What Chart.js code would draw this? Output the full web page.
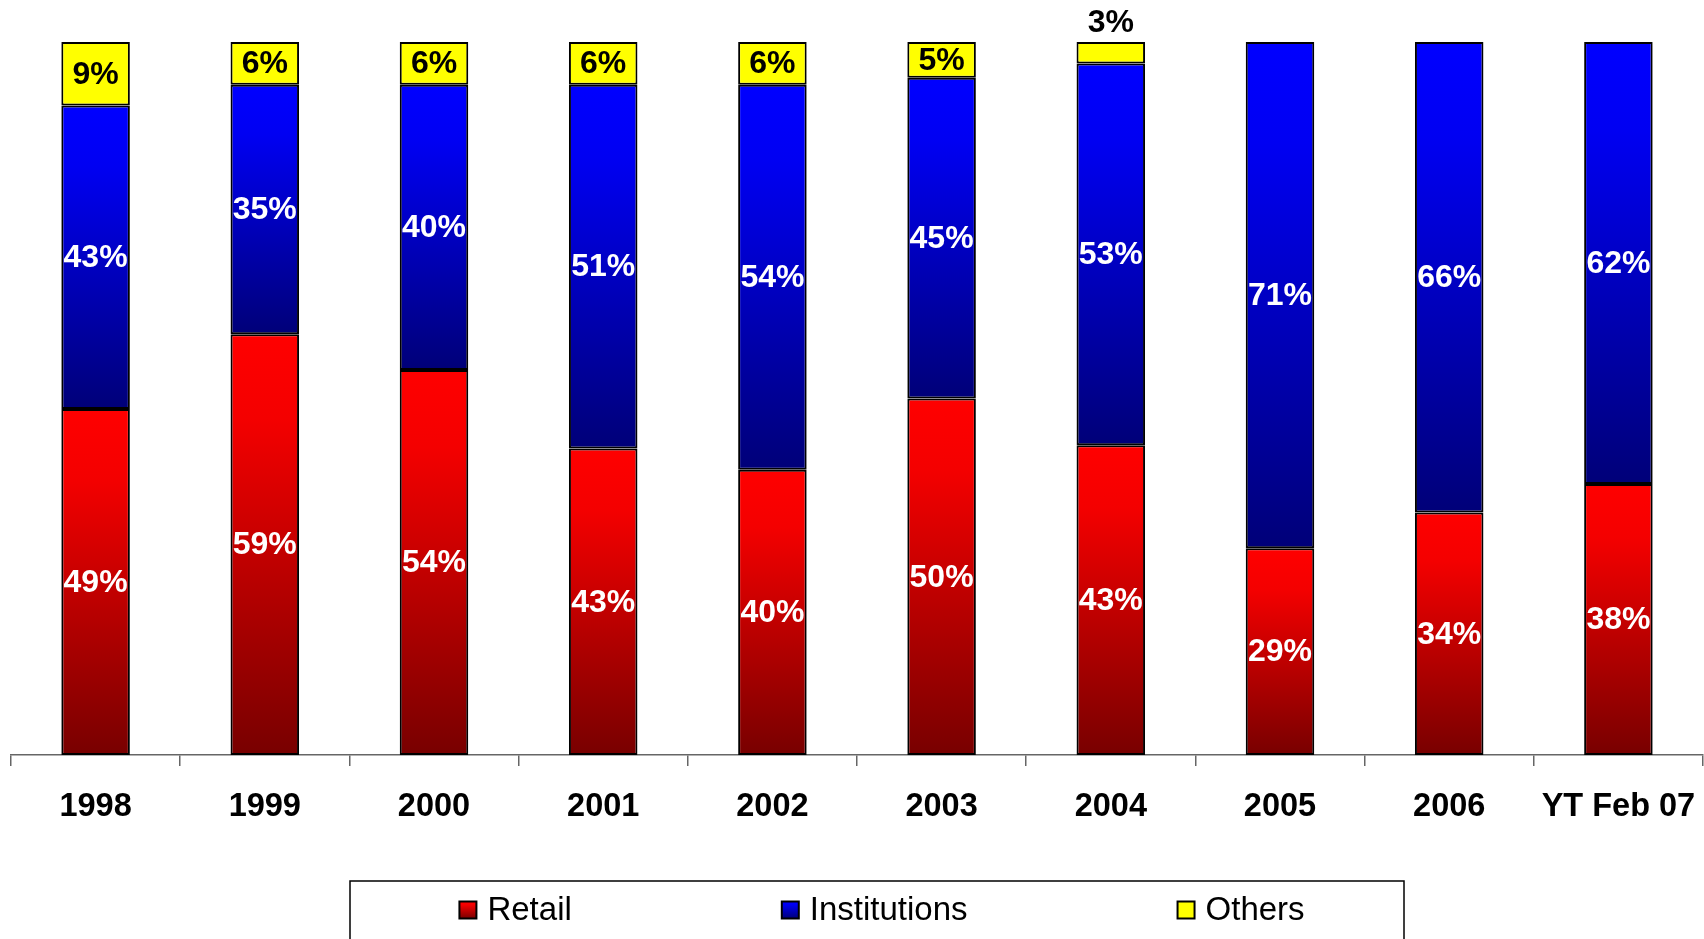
<!DOCTYPE html>
<html>
<head>
<meta charset="utf-8">
<title>Share of trading by investor type</title>
<script src="https://cdn.jsdelivr.net/npm/chart.js@4.4.1/dist/chart.umd.min.js"></script>
<style>
  html, body { margin: 0; padding: 0; background: #fff; }
  #wrap { width: 1704px; height: 939px; position: relative; }
</style>
</head>
<body>
<div id="wrap"><canvas id="shareChart"></canvas></div>
<script>
const years = ['1998', '1999', '2000', '2001', '2002', '2003', '2004', '2005', '2006', 'YT Feb 07'];
const retail = [49, 59, 54, 43, 40, 50, 43, 29, 34, 38];
const institutions = [43, 35, 40, 51, 54, 45, 53, 71, 66, 62];
const others = [9, 6, 6, 6, 6, 5, 3, 0, 0, 0];

const FONT = '"Liberation Sans", Arial, sans-serif';

// each bar is shown as a 100% column
const totals = years.map((_, i) => retail[i] + institutions[i] + others[i]);
const toShare = arr => arr.map((v, i) => v / totals[i] * 100);

function segGradient(ctx, top, bottom, light, mid, dark) {
  const g = ctx.createLinearGradient(0, top, 0, bottom);
  g.addColorStop(0, light);
  g.addColorStop(0.2, mid);
  g.addColorStop(1, dark);
  return g;
}

// gradient fill per segment, bright on top and dark at the bottom
function shadedFill(light, mid, dark) {
  return function (context) {
    const chart = context.chart;
    if (!chart.chartArea || context.type !== 'data') return light;
    const y = chart.scales.y;
    const di = context.datasetIndex, idx = context.dataIndex;
    let low = 0;
    for (let k = 0; k < di; k++) low += chart.data.datasets[k].data[idx];
    const high = low + chart.data.datasets[di].data[idx];
    const top = y.getPixelForValue(high), bottom = y.getPixelForValue(low);
    if (!isFinite(top) || !isFinite(bottom) || bottom - top < 1) return light;
    return segGradient(chart.ctx, top, bottom, light, mid, dark);
  };
}

const valueLabels = {
  id: 'valueLabels',
  afterDatasetsDraw(chart) {
    const ctx = chart.ctx;
    ctx.save();
    ctx.font = 'bold 32px ' + FONT;
    ctx.textAlign = 'center';
    ctx.textBaseline = 'middle';
    chart.data.datasets.forEach((ds, di) => {
      const meta = chart.getDatasetMeta(di);
      meta.data.forEach((bar, i) => {
        const v = ds.rawValues[i];
        if (!v) return;
        const h = bar.base - bar.y;
        let y = (bar.y + bar.base) / 2;
        ctx.fillStyle = ds.labelColor;
        if (h < 30) {
          // too thin to hold the text: put it over the column
          y = bar.y - 20;
          ctx.fillStyle = '#000';
        }
        ctx.fillText(v + '%', bar.x, y + 1);
      });
    });
    ctx.restore();
  }
};

const boxLegend = {
  id: 'boxLegend',
  afterDraw(chart) {
    const ctx = chart.ctx;
    const boxL = 350, boxR = 1404, boxT = 881;
    const midY = 910, sw = 17, gap = 11, spacing = 210;
    ctx.save();
    ctx.strokeStyle = '#000';
    ctx.lineWidth = 1.5;
    ctx.strokeRect(boxL, boxT, boxR - boxL, 80);
    ctx.font = '33px ' + FONT;
    ctx.textBaseline = 'middle';
    const items = chart.data.datasets.map(ds => ({
      text: ds.label, w: ctx.measureText(ds.label).width, colors: ds.swatch
    }));
    let total = 0;
    items.forEach((it, k) => { total += sw + gap + it.w + (k ? spacing : 0); });
    let x = (boxL + boxR) / 2 - total / 2 + 5;
    items.forEach(it => {
      const top = midY - sw / 2;
      ctx.fillStyle = segGradient(ctx, top, top + sw, it.colors[0], it.colors[1], it.colors[2]);
      ctx.fillRect(x, top, sw, sw);
      ctx.lineWidth = 2;
      ctx.strokeRect(x, top, sw, sw);
      ctx.fillStyle = '#000';
      ctx.fillText(it.text, x + sw + gap, midY + 1);
      x += sw + gap + it.w + spacing;
    });
    ctx.restore();
  }
};

const redSet = ['#ff0000', '#f40000', '#780000'];
const blueSet = ['#0000ff', '#0000f2', '#000078'];
const yellowSet = ['#ffff00', '#ffff00', '#ffff00'];

new Chart(document.getElementById('shareChart'), {
  type: 'bar',
  data: {
    labels: years,
    datasets: [
      {
        label: 'Retail', data: toShare(retail), rawValues: retail,
        backgroundColor: shadedFill(...redSet), swatch: redSet, labelColor: '#fff'
      },
      {
        label: 'Institutions', data: toShare(institutions), rawValues: institutions,
        backgroundColor: shadedFill(...blueSet), swatch: blueSet, labelColor: '#fff'
      },
      {
        label: 'Others', data: toShare(others), rawValues: others,
        backgroundColor: '#ffff00', swatch: yellowSet, labelColor: '#000'
      }
    ]
  },
  options: {
    responsive: true,
    maintainAspectRatio: false,
    animation: false,
    datasets: {
      bar: {
        borderColor: '#000',
        borderWidth: 2,
        borderSkipped: false,
        barPercentage: 0.405,
        categoryPercentage: 1
      }
    },
    layout: { padding: { top: 42, left: 11, right: 1, bottom: 90 } },
    plugins: {
      legend: { display: false },
      tooltip: { enabled: false }
    },
    scales: {
      x: {
        stacked: true,
        offset: true,
        // the outer labels fit inside their own category, no extra side room
        afterFit(scale) {
          scale.paddingLeft = 0;
          scale.paddingRight = 0;
        },
        grid: {
          offset: true,
          drawOnChartArea: false,
          drawTicks: true,
          tickLength: 11,
          color: '#666',
          lineWidth: 1.5
        },
        border: { display: true, color: '#666', width: 1.5 },
        ticks: {
          color: '#000',
          padding: 22,
          maxRotation: 0,
          autoSkip: false,
          font: { family: FONT, size: 32.5, weight: 'bold' }
        }
      },
      y: {
        stacked: true,
        display: false,
        min: 0,
        max: 100
      }
    }
  },
  plugins: [valueLabels, boxLegend]
});
</script>
</body>
</html>
